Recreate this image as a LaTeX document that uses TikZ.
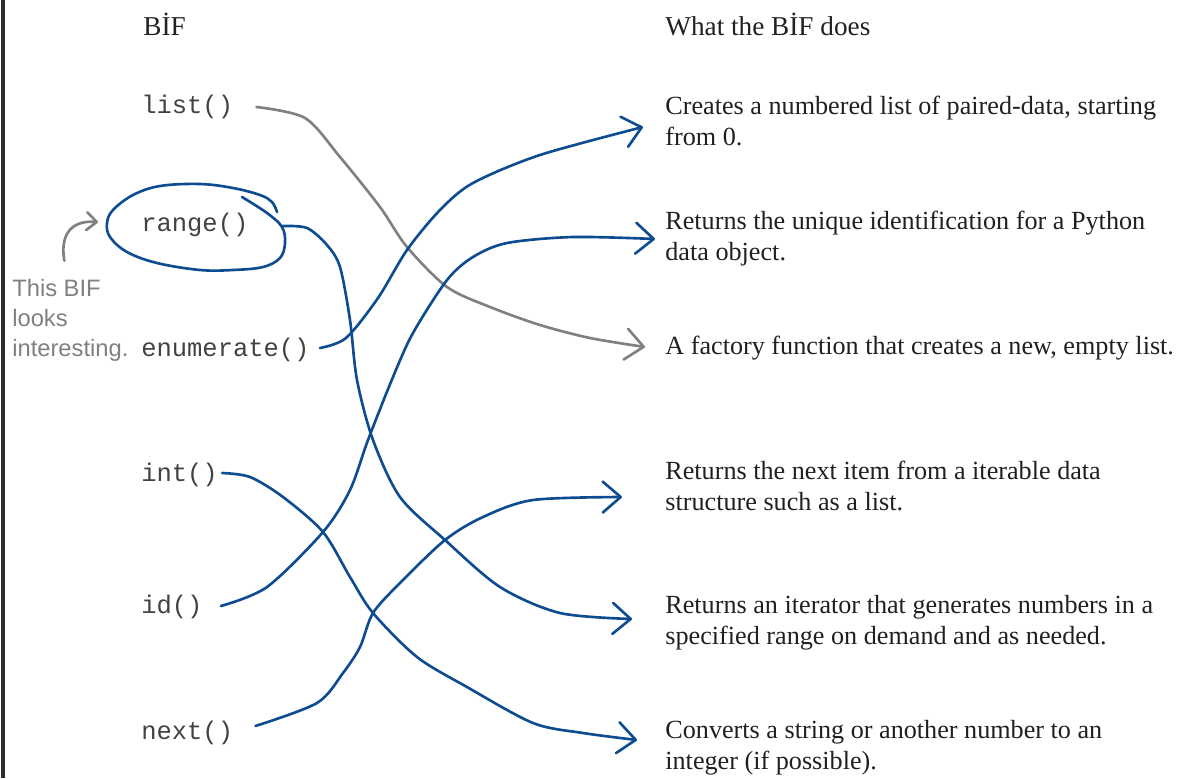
\documentclass[tikz,border=0pt]{standalone}
\usepackage{fontspec}
\setmainfont{Liberation Serif}
\setmonofont{Liberation Mono}
\newfontfamily\handfont{Liberation Sans}
\usetikzlibrary{arrows.meta,calc}
\definecolor{pen}{RGB}{14,76,146}
\definecolor{pencil}{RGB}{128,128,128}
\definecolor{ink}{RGB}{35,31,32}
\definecolor{frame}{RGB}{45,45,45}

\tikzset{
  bif/.style={anchor=base west, inner sep=0pt, text=ink!85, font=\ttfamily\fontsize{14.5}{17}\selectfont},
  does/.style={anchor=base west, inner sep=0pt, align=left, text=ink, font=\fontsize{14.9}{17.6}\selectfont},
  heading/.style={anchor=base west, inner sep=0pt, text=ink, font=\fontsize{15.5}{18}\selectfont},
  note/.style={anchor=base west, inner sep=0pt, align=left, text=pencil, font=\handfont\fontsize{13.5}{17}\selectfont},
  link/.style={draw=pen, line width=1.5pt, line cap=round, line join=round,
    -{Straight Barb[length=0.36cm,width=0.62cm,round]}},
  greylink/.style={link, draw=pencil},
}

\begin{document}
\begin{tikzpicture}[x=0.02cm, y=-0.02cm]
    \useasboundingbox (0,0) rectangle (1179,778);
    \draw[frame, line width=1.8pt] (3,0) -- (3,778);

    % column heads
    \node[heading] (bifhead) at (143,35) {BİF};
    \node[heading] (doeshead) at (665,35) {What the BİF does};

    % the BIFs
    \node[bif] (listf) at (141,113) {list()};
    \node[bif] (rangef) at (141,231) {range()};
    \node[bif] (enumf) at (141,356) {enumerate()};
    \node[bif] (intf) at (141,481) {int()};
    \node[bif] (idf) at (141,613) {id()};
    \node[bif] (nextf) at (141,739) {next()};

    % what they do (base = last line)
    \node[does] (d1) at (665,145) {Creates a numbered list of paired-data, starting\\from 0.};
    \node[does] (d2) at (665,260) {Returns the unique identification for a Python\\data object.};
    \node[does] (dfact) at (665,354) {A factory function that creates a new, empty list.};
    \node[does] (d4) at (665,510) {Returns the next item from a iterable data\\structure such as a list.};
    \node[does] (d5) at (665,644) {Returns an iterator that generates numbers in a\\specified range on demand and as needed.};
    \node[does] (d6) at (665,769) {Converts a string or another number to an\\integer (if possible).};

    % ring round range() and the note
    \draw[pen, line width=1.5pt, line cap=round] plot[smooth, tension=0.6] coordinates {
        (242,197) (267,213) (282,227) (285,243) (280,258) (263,267) (233,270) (200,270)
        (157,263) (127,252) (110,237) (107,223) (113,210) (133,195) (160,186) (200,184)
        (233,188) (260,195) (272,202) (277,212)};
    \node[note] (note) at (12,356) {This BIF\\looks\\interesting.};
    \coordinate (ring) at (98,222);
    \draw[greylink, -{Straight Barb[length=0.2cm,width=0.36cm,round]}]
        ($(note.north)+(-6,-18)$) .. controls (60,236) and (70,220) .. (ring);

    % matches
    \draw[greylink] plot[smooth] coordinates {($(listf.base east)+(23,-6)$) (305,118)
        (340,157) (380,207) (407,247) (447,287) (490,307) (540,325) (590,338)
        ($(dfact.base west)+(-20,-7)$)};
    \draw[link] plot[smooth] coordinates {($(rangef.base east)+(34,-5)$) (307,228) (327,245)
        (340,267) (350,320) (357,380) (373,440) (400,497) (445,540) (500,587) (560,613)
        ($(d5.base west)+(-33,-25)$)};
    \draw[link] plot[smooth] coordinates {($(enumf.base east)+(10,-8)$) (346,338) (378,298)
        (407,250) (440,210) (473,183) (540,155) ($(d1.base west)+(-22,-18)$)};
    \draw[link] plot[smooth] coordinates {($(intf.base east)+(4,-8)$) (250,477) (283,497)
        (323,532) (350,577) (373,613) (417,657) (467,687) (533,723) (583,733)
        ($(d6.base west)+(-28,-29)$)};
    \draw[link] plot[smooth] coordinates {($(idf.base east)+(18,-7)$) (267,587) (323,532)
        (350,490) (368,440) (393,377) (413,333) (447,280) (473,257) (507,243) (573,237)
        ($(d2.base west)+(-10,-21)$)};
    \draw[link] plot[smooth] coordinates {($(nextf.base east)+(22,-13)$) (317,703) (343,673)
        (360,647) (373,613) (400,583) (445,540) (483,517) (533,500) ($(d4.base west)+(-43,-13)$)};
\end{tikzpicture}
\end{document}
